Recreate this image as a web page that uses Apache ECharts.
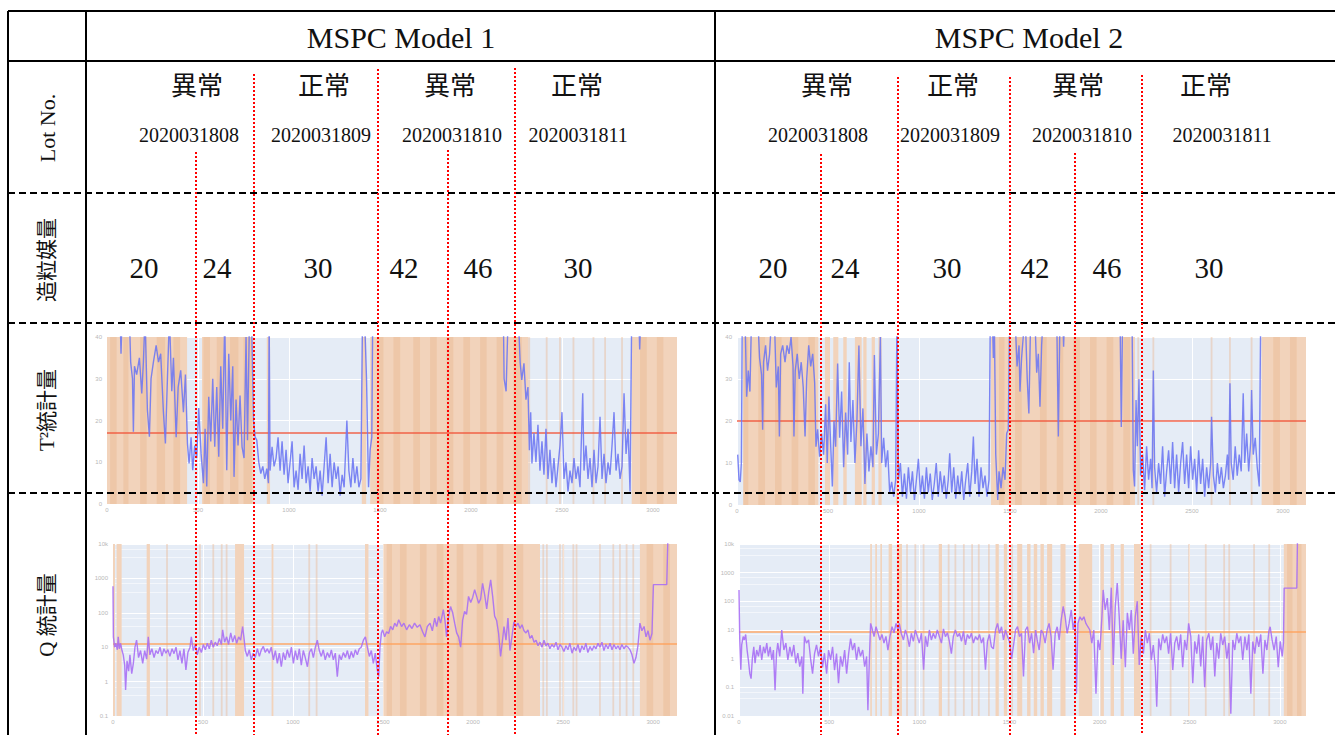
<!DOCTYPE html>
<html><head><meta charset="utf-8">
<script src="https://cdn.jsdelivr.net/npm/echarts@6/dist/echarts.min.js"></script>
<style>html,body{margin:0;padding:0;background:#fff;}#c{width:1335px;height:735px;}</style>
</head><body><div id="c"></div>
<script>
// ---------------- data ----------------
const modelTitles = ['MSPC Model 1', 'MSPC Model 2'];
const statusLabels = ['異常', '正常', '異常', '正常'];
const lotNumbers = ['2020031808', '2020031809', '2020031810', '2020031811'];
const granulationAmounts = [20, 24, 30, 42, 46, 30];
const rowLabels = ['Lot No.', '造粒媒量', 'T²統計量', 'Q 統計量'];
const xTickLabels = [0, 500, 1000, 1500, 2000, 2500, 3000];
const t2TickLabels = [0, 10, 20, 30, 40];
const q1TickLabels = ['0.1', '1', '10', '100', '1000', '10k'];
const q2TickLabels = ['0.01', '0.1', '1', '10', '100', '1000', '10k'];
const t2Limits = [17, 20];
const qLimits = [13, 9];

const t2m1 = [[2,45],[72,45],[77,36],[83,45],[123,45],[130,34],[140,30],[145,17.3],[151,33],[163,31],[178,35],[191,26.5],[200,34],[209,45],[222,22.5],[233,16.1],[242,30],[255,34],[270,38],[283,34],[295,36],[310,22],[321,14.5],[332,30],[343,45],[356,27],[365,35],[380,16],[391,28],[405,32],[420,22],[431,31],[442,14.5],[451,9.7],[462,16],[471,8.1],[482,14],[493,11],[504,23],[517,12],[530,5],[539,18],[548,4.2],[559,25.7],[570,15],[581,30],[592,13.7],[603,28],[614,11.3],[625,33],[636,18],[647,45],[658,8.1],[669,36],[680,20],[691,33],[698,6.5],[709,25],[720,14],[731,26],[742,13.7],[753,11],[764,40],[772,15.3],[783,45],[794,45],[805,20],[814,16],[823,15.3],[834,10],[845,7.3],[856,9],[867,6],[878,8.5],[887,5],[891,45],[896,8],[907,13.7],[918,9],[929,11],[940,16],[951,8],[962,15],[973,7],[984,13],[995,5],[1006,10],[1017,15],[1028,4],[1039,8],[1050,3.4],[1061,12],[1072,6],[1083,14],[1094,5],[1105,9],[1116,3],[1127,11],[1138,6],[1149,9],[1160,3],[1171,8],[1182,2],[1193,9],[1204,16],[1215,5],[1226,12],[1237,4],[1248,10],[1259,6],[1270,9],[1281,2],[1292,7],[1303,4],[1318,20],[1329,8],[1340,4],[1351,11],[1362,5],[1373,9],[1384,4],[1395,6],[1404,45],[1415,45],[1426,30],[1437,4],[1446,13],[1455,16],[1460,45],[1700,45],[2000,45],[2178,45],[2182,30],[2193,27],[2204,45],[2260,45],[2270,34],[2279,29.7],[2291,33.7],[2302,25],[2313,28],[2321,12.9],[2328,22],[2335,9.7],[2346,17],[2357,10],[2368,19],[2379,8],[2390,15],[2401,7],[2412,18],[2423,6],[2434,13],[2445,5],[2456,11],[2467,4],[2478,9],[2489,14],[2500,22],[2511,6],[2522,10],[2533,3],[2544,8],[2555,5],[2566,11],[2577,6],[2588,9],[2599,4],[2614,26.5],[2621,8],[2632,14],[2643,6],[2654,11],[2665,4],[2676,13],[2687,5],[2698,9],[2709,20.9],[2720,6],[2731,12],[2742,5],[2753,10],[2764,7],[2775,14],[2786,22],[2797,8],[2808,12],[2819,6],[2830,9],[2841,26.5],[2852,12],[2863,18],[2874,3],[2883,45],[2922,45],[2927,37],[2933,45],[3131,45]];

const t2m2 = [[4,12],[11,6],[18,5.5],[24,10],[29,45],[44,45],[53,25.8],[62,32],[71,27],[80,45],[114,45],[124,35],[135,31],[141,17.9],[146,34],[157,38],[168,32],[179,36],[190,45],[205,45],[216,28],[227,33],[233,16.3],[240,36],[251,38],[264,34],[275,38],[286,36],[297,40],[308,33],[313,16.3],[320,32],[331,36],[342,30],[353,34],[364,28],[374,16.3],[383,30],[394,38],[405,33],[416,36],[427,29],[434,13.9],[443,18],[454,11.5],[465,17],[476,12],[487,24],[496,10],[505,25.8],[515,14],[524,4.4],[533,20],[542,13.9],[553,33.7],[564,16],[575,27],[586,9],[597,22],[608,12],[617,34],[626,15],[637,25],[648,10],[659,20],[670,38],[681,14],[692,23],[703,5],[714,17],[725,8],[736,14],[747,9],[755,35.7],[766,12],[777,17],[788,40],[795,10],[806,16],[817,9],[828,13],[839,3],[850,5.5],[861,2],[872,6],[879,45],[887,6],[898,10],[909,2],[920,7.5],[931,1.5],[942,9],[953,3],[964,8],[975,1.2],[986,6],[997,11],[1008,2.5],[1019,7],[1030,1.5],[1041,9],[1051,3],[1062,7.5],[1073,1.2],[1084,5],[1095,10],[1106,2],[1117,8],[1128,3],[1139,7],[1150,1.5],[1161,6],[1169,12.3],[1180,3],[1191,9],[1202,1.5],[1213,7],[1224,2.5],[1235,8],[1246,1.2],[1257,6],[1268,10],[1279,2],[1290,8],[1299,16.3],[1308,5],[1319,11],[1330,2],[1341,9],[1352,4],[1363,7],[1374,2],[1385,6],[1392,45],[1403,45],[1409,35],[1414,45],[1422,12],[1429,5],[1433,1.2],[1440,8],[1451,4],[1462,9],[1473,6],[1482,17],[1491,18],[1498,45],[1528,45],[1539,33],[1550,38],[1555,27],[1564,35],[1573,40],[1584,45],[1595,30],[1604,21.8],[1614,45],[1637,45],[1647,31.5],[1656,36],[1665,23.4],[1674,38],[1683,45],[1757,45],[1766,16.3],[1775,45],[1790,45],[1795,37.7],[1800,45],[2105,45],[2112,18.6],[2119,45],[2171,45],[2178,8.3],[2185,4.4],[2193,25],[2200,14],[2209,30],[2218,7],[2229,12],[2240,3.5],[2251,14],[2262,6],[2273,11],[2281,4],[2288,32],[2295,9],[2306,3],[2317,10],[2328,5],[2339,14],[2350,2],[2361,8],[2372,13],[2383,5],[2394,15],[2405,4],[2416,12],[2427,3],[2438,10],[2449,15],[2460,5],[2471,12],[2482,4],[2493,14],[2504,6],[2515,11],[2526,3],[2537,13],[2548,5],[2559,11],[2570,2],[2581,9],[2592,4],[2603,10],[2608,21],[2618,7],[2629,3],[2640,10],[2651,5],[2662,9],[2673,4],[2684,7],[2695,12],[2702,6],[2709,29],[2716,10],[2727,6],[2738,14],[2749,7],[2760,12],[2771,8],[2782,26.6],[2790,10],[2801,17],[2812,8],[2823,15],[2828,27.4],[2837,12],[2848,16],[2859,9],[2870,4.4],[2878,45],[3127,45]];

const q1 = [[0,590],[2,20],[9,10],[16,13],[24,8.4],[29,20],[35,9],[42,13],[50,8],[57,6],[65,3],[70,0.57],[78,4],[87,2],[94,6],[104,1.7],[113,3.4],[122,10],[131,16],[142,5],[153,8],[165,3.4],[176,8],[187,4.5],[196,20],[205,6],[216,9],[228,5],[239,8],[250,6.5],[261,10],[272,5.5],[283,9],[294,6.7],[305,8.5],[316,5.4],[328,9],[339,6.5],[350,10],[361,4.3],[372,8],[383,3.4],[394,9],[405,2.2],[416,7],[428,10],[435,20],[446,8],[457,12],[468,6],[479,10],[491,7],[502,12],[513,8.4],[524,13],[535,9],[546,16],[557,10],[568,14],[579,11],[591,18],[602,12],[609,32],[620,14],[631,20],[642,12],[654,26],[665,14],[676,22],[687,13],[698,20],[709,16],[720,40],[728,18],[735,8],[746,5.4],[757,8.4],[768,4.3],[779,6.7],[790,5],[802,9],[813,5.4],[824,8.4],[835,10.5],[846,7],[857,9],[868,6.7],[879,10],[891,4.3],[902,8],[913,3.4],[924,6.7],[935,2.7],[946,7],[957,4.3],[968,8.4],[980,5],[991,10],[1002,3.4],[1013,8],[1024,4.3],[1035,9],[1046,3],[1057,8],[1068,5],[1080,2.7],[1091,7],[1102,9],[1113,5],[1124,10],[1135,16],[1146,8],[1157,5.4],[1168,8.4],[1179,4.3],[1191,7],[1202,5],[1213,8.4],[1224,4.3],[1235,6.7],[1246,1.4],[1257,6],[1268,4.3],[1280,7],[1291,5],[1302,8],[1313,4.5],[1324,7.5],[1335,5],[1346,8.4],[1357,6],[1368,9],[1379,10],[1391,16],[1402,20],[1413,10],[1424,5.4],[1435,8],[1446,3.4],[1457,6.7],[1468,2.2],[1476,1.4],[1483,10],[1491,26],[1498,32],[1509,20],[1520,28],[1531,25],[1542,40],[1554,32],[1565,50],[1576,40],[1587,63],[1603,40],[1616,50],[1631,32],[1646,45],[1661,35],[1675,50],[1690,38],[1705,45],[1720,28],[1733,20],[1746,40],[1761,50],[1774,30],[1787,70],[1798,40],[1809,78],[1820,50],[1835,123],[1844,60],[1853,20],[1864,80],[1875,152],[1887,100],[1898,50],[1909,26],[1920,20],[1931,10],[1942,60],[1953,110],[1964,90],[1975,300],[1987,200],[1998,280],[2009,470],[2020,300],[2031,190],[2042,250],[2053,720],[2064,350],[2076,130],[2087,400],[2098,910],[2109,300],[2120,80],[2131,60],[2142,25],[2153,5.4],[2161,12],[2172,40],[2183,16],[2194,70],[2205,8],[2216,20],[2227,55],[2238,40],[2250,50],[2261,35],[2272,45],[2283,30],[2294,26],[2305,32],[2316,18],[2327,22],[2339,14],[2350,16],[2361,11],[2372,14],[2383,10],[2394,16],[2405,11],[2416,13],[2427,9],[2438,12],[2450,10],[2461,14],[2472,8.4],[2483,12],[2494,10],[2505,7.5],[2516,11],[2527,8.4],[2538,13],[2550,6.7],[2561,10],[2572,8],[2583,12],[2594,7],[2605,11],[2616,8.4],[2627,13],[2638,7],[2650,10.5],[2661,8],[2672,11],[2683,9],[2694,13],[2705,10],[2716,14],[2727,8],[2738,12],[2750,9],[2761,13],[2772,8.4],[2783,12],[2794,9],[2805,11],[2816,8.4],[2827,12],[2838,9],[2850,11],[2861,10],[2872,8.4],[2883,6],[2894,3.4],[2905,5],[2916,11],[2927,50],[2938,30],[2950,40],[2961,20],[2972,30],[2983,16],[2994,25],[3002,660],[3076,660],[3083,20000]];

const q2 = [[0,250],[4,5],[10,0.41],[15,3],[23,5.9],[30,4.5],[37,7],[45,2],[52,0.9],[60,0.3],[67,0.2],[74,1],[82,2.6],[89,0.7],[98,2],[108,1.2],[117,3],[126,0.9],[136,2.6],[145,1.55],[154,3.5],[163,1.2],[173,2.6],[182,0.9],[191,2],[200,0.08],[208,1.5],[215,3.5],[226,1.2],[237,10],[249,2],[260,3.5],[271,0.9],[282,2.6],[293,1.2],[304,3],[315,0.69],[326,1.55],[337,0.53],[349,1.2],[354,0.06],[363,5.9],[374,3.5],[386,4.5],[397,1],[408,0.3],[419,1.5],[430,3],[441,1.2],[452,2.6],[463,0.5],[474,1.55],[486,0.3],[497,2],[508,0.9],[519,2.6],[530,0.4],[541,1.5],[552,0.14],[563,1.2],[574,0.53],[586,2],[597,0.3],[608,1.5],[619,5],[630,2],[641,3.5],[652,0.9],[663,2.6],[674,1.2],[686,2],[697,0.53],[708,1.2],[715,0.016],[723,0.9],[730,17],[737,12],[749,5.9],[760,13],[771,7.7],[782,4.5],[793,7],[804,3.5],[815,6],[826,2],[837,5.9],[849,13],[860,8],[871,17],[882,10],[889,17],[900,7.7],[912,4.5],[923,10],[934,6],[945,2.6],[956,7.7],[967,4],[978,10],[989,5.9],[1000,3.5],[1012,7.7],[1024,0.41],[1034,6],[1045,2.6],[1056,10],[1067,4.5],[1078,7.7],[1089,5],[1100,10],[1111,6],[1123,3.5],[1134,11],[1145,5.9],[1156,8],[1167,4],[1178,1.5],[1189,6],[1200,10],[1212,5.9],[1223,7.7],[1234,4],[1245,9],[1256,3],[1267,7],[1278,5],[1289,7.7],[1300,3.5],[1312,5.9],[1323,4.5],[1334,7],[1345,3.5],[1356,5.5],[1367,0.41],[1378,4],[1389,7],[1400,2.6],[1411,2.2],[1423,10],[1434,17],[1445,7.7],[1456,13],[1467,4.5],[1478,10],[1489,6],[1500,4],[1512,1],[1523,3],[1534,10],[1545,13],[1556,5.9],[1567,7.7],[1578,0.24],[1589,10],[1600,13],[1612,3.5],[1623,7.7],[1634,1.55],[1645,10],[1654,4.5],[1665,2],[1676,10],[1687,7.7],[1698,3.5],[1709,10],[1720,17],[1731,5.9],[1742,0.41],[1754,7.7],[1765,13],[1776,4.5],[1787,22],[1798,66],[1809,29],[1820,7.7],[1831,17],[1843,50],[1854,10],[1865,29],[1872,0.06],[1880,17],[1891,29],[1902,22],[1913,29],[1924,17],[1935,13],[1946,10],[1957,3.5],[1968,10],[1980,0.06],[1991,4.5],[2002,2],[2013,29],[2020,250],[2031,50],[2043,130],[2054,10],[2065,300],[2076,0.6],[2087,66],[2098,436],[2109,29],[2120,1],[2131,22],[2143,0.5],[2154,40],[2165,10],[2176,50],[2187,1.5],[2198,29],[2209,100],[2220,0.6],[2231,5.9],[2243,1.5],[2254,10],[2265,3.5],[2276,7.7],[2287,0.9],[2298,3],[2309,0.5],[2317,0.021],[2328,5],[2339,2],[2350,7],[2361,3.5],[2372,5.9],[2383,1.5],[2394,7.7],[2406,0.4],[2417,3.5],[2428,5.9],[2439,2],[2450,7],[2461,0.5],[2472,4.5],[2483,2],[2494,17],[2506,5.9],[2517,0.14],[2528,4],[2539,1.5],[2550,7],[2561,0.53],[2572,5.9],[2583,0.1],[2594,4.5],[2606,7.7],[2617,2],[2628,5.9],[2639,0.24],[2650,3.5],[2661,1],[2672,7.7],[2683,3],[2694,5.9],[2706,1],[2717,3.5],[2728,0.012],[2739,4.5],[2750,2],[2761,7.7],[2772,3.5],[2783,6],[2794,0.9],[2806,5.9],[2817,2],[2828,7],[2839,0.06],[2850,4],[2861,1.5],[2872,5.9],[2883,2.6],[2894,7],[2906,0.3],[2917,4.5],[2928,2],[2939,9],[2946,13],[2957,4.5],[2968,2],[2980,5.9],[2991,0.5],[3002,4],[3013,1.2],[3020,3.5],[3024,290],[3094,290],[3098,20000]];

// anomaly-flag bands (x ranges)
const t2m1Bands = [[0,440],[522,805],[878,896],[1400,1424],[1446,2315],[2883,3132]];
const t2m1Dark = [[17,53],[90,118],[182,218],[273,319],[365,402],[530,566],[603,640],[676,722],[750,796],[1482,1519],[1574,1611],[1683,1720],[1775,1812],[1866,1903],[1958,1995],[2050,2086],[2141,2178],[2233,2279],[2929,2966],[3021,3057]];
const t2m1Thin = [2320,2416,2489,2563,2673,2737,2830];

const t2m2Bands = [[35,447],[483,511],[529,557],[584,603],[648,685],[694,712],[740,758],[777,795],[875,884],[1396,2187],[2883,3127]];
const t2m2Dark = [[35,62],[117,154],[209,245],[300,337],[392,428],[1440,1470],[1528,1565],[1665,1702],[1757,1793],[1848,1885],[1940,1976],[2031,2068],[2123,2160],[2947,2984],[3039,3076]];
const t2m2Thin = [2205,2288,2608,2709,2828];

const q1Bands = [[0,11],[20,48],[187,205],[678,728],[881,891],[1400,1419],[1502,2372],[2927,3133]];
const q1Dark = [[1520,1550],[1594,1631],[1705,1742],[1798,1835],[1909,1946],[2020,2057],[2131,2168],[2242,2279],[2964,3001],[3057,3094]];
const q1Thin = [300,483,557,604,631,1090,1131,2390,2410,2483,2501,2557,2575,2705,2779,2816,2853,2890];

const q2Bands = [[728,737],[756,765],[784,793],[830,849],[876,904],[1108,1126],[1423,1441],[1469,1487],[1543,1571],[1598,1617],[1635,1654],[1672,1691],[1709,1737],[1783,1811],[1885,1959],[2005,2024],[2061,2080],[2117,2135],[2191,2228],[3022,3145]];
const q2Dark = [[3040,3070],[3095,3120]];
const q2Thin = [932,978,1024,1163,1200,1247,1293,1330,1386,1515,2283,2394,2496,2589,2691,2719,2857,2941];

// ---------------- layout (pixels) ----------------
const L = {
  left: 8, right: 1335, top: 11, bottom: 735, colX: 86, midX: 715, headY: 61, dashY: [193, 323, 493],
  headTextY: 37, modelCX: [401, 1029],
  statusX: [[197, 324, 450, 577], [827, 953, 1078, 1206]], statusY: 86,
  lotX: [[189, 321, 452, 578], [818, 950, 1082, 1222]], lotY: 135,
  amtX: [[144, 217, 318, 404, 478, 578], [773, 845, 947, 1035, 1107, 1209]], amtY: 268,
  rowLabelX: 47, rowLabelY: [128, 260, 410, 615],
  redX: [[196, 254, 378, 448, 515], [821, 898, 1010, 1075, 1142]],
  redTop: [[152, 74, 69, 150, 68], [154, 77, 77, 153, 75]]
};
const grids = [
  { left: 107, top: 337, width: 570, height: 167, xmax: 3132 },
  { left: 737, top: 337, width: 569, height: 168, xmax: 3127 },
  { left: 113, top: 544, width: 564, height: 172, xmax: 3133 },
  { left: 739, top: 544, width: 567, height: 172, xmax: 3145 }
];
const SERIF = '"Liberation Serif","Noto Sans CJK JP",serif';
const C = { bg: '#e5ecf6', band: '#f2d3bb', dark: '#eec7a8', thin: 'rgba(236,180,140,0.4)',
  t2Line: '#6b75f2', qLine: '#a66cf5', t2Lim: '#ef553b', qLim: '#ffa15a', tick: '#b8b8b8' };

// ---------------- build ----------------
const g = [];
function line(x1, y1, x2, y2, stroke, w, dash) {
  g.push({ type: 'line', z: 100, silent: true, shape: { x1, y1, x2, y2 },
    style: { stroke, lineWidth: w, lineDash: dash || null } });
}
function text(x, y, t, size, rot) {
  g.push({ type: 'text', z: 101, silent: true, x, y, rotation: rot || 0,
    style: { text: t, font: size + 'px ' + SERIF, fill: '#111',
      align: 'center', verticalAlign: 'middle', textAlign: 'center', textVerticalAlign: 'middle' } });
}
line(L.left, L.top, L.right, L.top, '#000', 2);
line(L.left, L.top, L.left, L.bottom, '#000', 2);
line(L.colX, L.top, L.colX, L.bottom, '#000', 2);
line(L.midX, L.top, L.midX, L.bottom, '#000', 2);
line(L.left, L.headY, L.right, L.headY, '#000', 2);
L.dashY.forEach(y => line(L.left, y, L.right, y, '#000', 2, [7, 4]));
modelTitles.forEach((t, i) => text(L.modelCX[i], L.headTextY, t, 30));
[0, 1].forEach(m => {
  statusLabels.forEach((t, i) => text(L.statusX[m][i], L.statusY, t, 26));
  lotNumbers.forEach((t, i) => text(L.lotX[m][i], L.lotY, t, 20));
  granulationAmounts.forEach((v, i) => text(L.amtX[m][i], L.amtY, String(v), 29));
});
rowLabels.forEach((t, i) => text(L.rowLabelX, L.rowLabelY[i], t, i === 0 ? 22 : 21, Math.PI / 2));
[0, 1].forEach(m => L.redX[m].forEach((x, i) => line(x, L.redTop[m][i], x, L.bottom, '#ff0000', 2, [2, 2])));

const series = [], xAxes = [], yAxes = [];
const sets = [
  { d: t2m1, b: t2m1Bands, k: t2m1Dark, t: t2m1Thin, lim: t2Limits[0], t2: true },
  { d: t2m2, b: t2m2Bands, k: t2m2Dark, t: t2m2Thin, lim: t2Limits[1], t2: true },
  { d: q1, b: q1Bands, k: q1Dark, t: q1Thin, lim: qLimits[0], t2: false, ticks: q1TickLabels, ymin: 0.1 },
  { d: q2, b: q2Bands, k: q2Dark, t: q2Thin, lim: qLimits[1], t2: false, ticks: q2TickLabels, ymin: 0.01 }
];
sets.forEach((s, i) => {
  xAxes.push({ type: 'value', gridIndex: i, min: 0, max: grids[i].xmax, interval: 500,
    axisLine: { show: false }, axisTick: { show: false },
    splitLine: { show: true, lineStyle: { color: '#ffffff', width: 1 } },
    axisLabel: { fontSize: 6, color: C.tick, margin: 3, showMaxLabel: false,
      formatter: v => xTickLabels.indexOf(v) >= 0 ? String(v) : '' } });
  if (s.t2) {
    yAxes.push({ type: 'value', gridIndex: i, min: 0, max: 40, interval: 10,
      axisLine: { show: false }, axisTick: { show: false },
      splitLine: { show: true, lineStyle: { color: '#ffffff', width: 1 } },
      axisLabel: { fontSize: 6, color: C.tick, margin: 5,
        formatter: v => t2TickLabels.indexOf(v) >= 0 ? String(v) : '' } });
  } else {
    yAxes.push({ type: 'log', logBase: 10, gridIndex: i, min: s.ymin, max: 10000,
      axisLine: { show: false }, axisTick: { show: false },
      splitLine: { show: true, lineStyle: { color: '#ffffff', width: 1 } },
      minorSplitLine: { show: true, lineStyle: { color: '#f3f6fb', width: 1 } },
      minorTick: { show: false, splitNumber: 3 },
      axisLabel: { fontSize: 6, color: C.tick, margin: 5,
        formatter: v => { const e = Math.round(Math.log10(v) - Math.log10(s.ymin)); return s.ticks[e] || ''; } } });
  }
  const base = { type: 'line', xAxisIndex: i, yAxisIndex: i, data: [], silent: true, animation: false };
  series.push(Object.assign({}, base, { z: 1, markArea: { silent: true, itemStyle: { color: C.band },
    data: s.b.map(r => [{ xAxis: r[0] }, { xAxis: r[1] }]) } }));
  series.push(Object.assign({}, base, { z: 2, markArea: { silent: true, itemStyle: { color: C.dark },
    data: s.k.map(r => [{ xAxis: r[0] }, { xAxis: r[1] }]) } }));
  series.push(Object.assign({}, base, { z: 2, markArea: { silent: true, itemStyle: { color: C.thin },
    data: s.t.map(c => [{ xAxis: c - 5 }, { xAxis: c + 5 }]) } }));
  series.push({ type: 'line', xAxisIndex: i, yAxisIndex: i, data: s.d, z: 5, silent: true, animation: false,
    showSymbol: false, symbol: 'none', clip: true,
    lineStyle: { color: s.t2 ? C.t2Line : C.qLine, width: 1.4, opacity: 0.88 },
    markLine: { silent: true, symbol: 'none', animation: false, label: { show: false },
      lineStyle: { color: s.t2 ? C.t2Lim : C.qLim, width: 1.6, type: 'solid', opacity: 0.9 },
      data: [{ yAxis: s.lim }] } });
});

const chart = echarts.init(document.getElementById('c'), null, { renderer: 'svg', width: 1335, height: 735 });
chart.setOption({
  animation: false,
  backgroundColor: '#ffffff',
  grid: grids.map(gr => ({ left: gr.left, top: gr.top, width: gr.width, height: gr.height,
    show: true, backgroundColor: C.bg, borderWidth: 0, containLabel: false })),
  xAxis: xAxes, yAxis: yAxes, series: series,
  graphic: { elements: g }
});
</script></body></html>
